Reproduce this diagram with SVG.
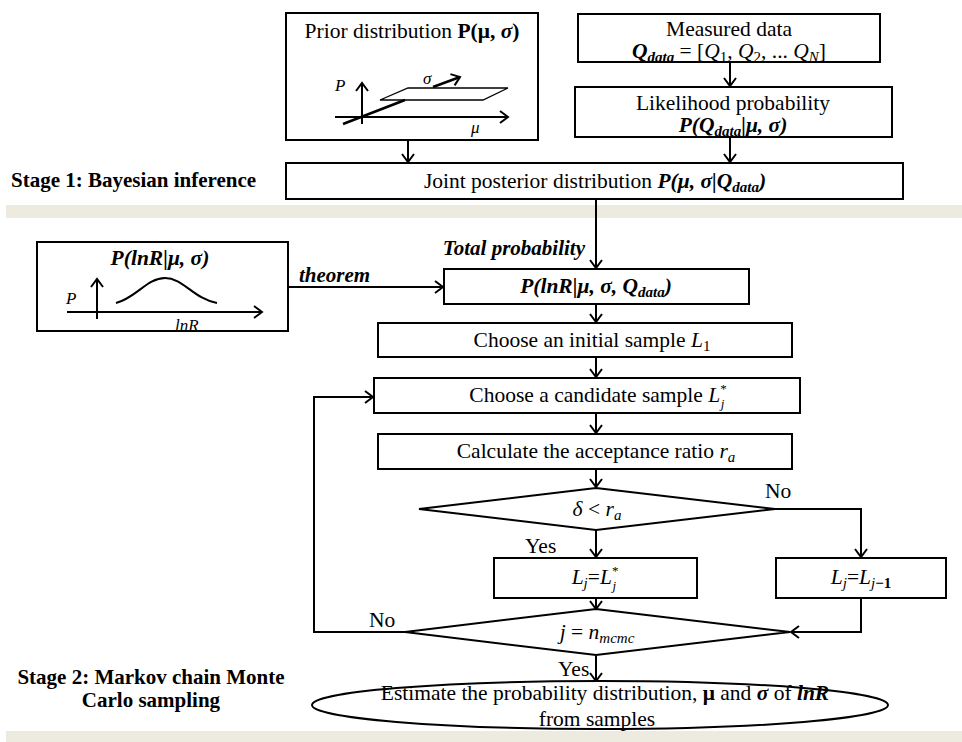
<svg xmlns="http://www.w3.org/2000/svg" width="962" height="742" viewBox="0 0 962 742">
<style>
text{font-family:"Liberation Serif","Times New Roman",serif;font-size:21.5px;fill:#000}
.c{text-anchor:middle}
.b{font-weight:bold}
.i{font-style:italic}
.bi{font-weight:bold;font-style:italic}
.st{font-weight:bold;font-size:21px}
.lab{font-size:17px;font-style:italic}
.box{fill:#fff;stroke:#000;stroke-width:2}
.ln{fill:none;stroke:#000;stroke-width:2}
.band{fill:#EDEAE0}
</style>
<defs>
<marker id="ah" viewBox="-10 -7 12 14" markerWidth="12" markerHeight="14" refX="0" refY="0" orient="auto" markerUnits="userSpaceOnUse">
<path d="M-8,-6 L0,0 L-8,6" fill="none" stroke="#000" stroke-width="2"/>
</marker>
</defs>

<rect class="band" x="6" y="205" width="956" height="13"/>
<rect class="band" x="6" y="731" width="956" height="11"/>

<text class="st" x="11" y="187">Stage 1: Bayesian inference</text>
<text class="st c" x="151" y="684">Stage 2: Markov chain Monte</text>
<text class="st c" x="151" y="707">Carlo sampling</text>

<g id="connectors">
<line class="ln" x1="408" y1="140" x2="408" y2="162" marker-end="url(#ah)"/>
<line class="ln" x1="730" y1="62" x2="730" y2="86" marker-end="url(#ah)"/>
<line class="ln" x1="730" y1="137" x2="730" y2="162" marker-end="url(#ah)"/>
<line class="ln" x1="596" y1="199" x2="596" y2="268" marker-end="url(#ah)"/>
<line class="ln" x1="288" y1="287" x2="443" y2="287" marker-end="url(#ah)"/>
<line class="ln" x1="596" y1="304" x2="596" y2="322" marker-end="url(#ah)"/>
<line class="ln" x1="596" y1="357" x2="596" y2="377" marker-end="url(#ah)"/>
<line class="ln" x1="596" y1="413" x2="596" y2="433" marker-end="url(#ah)"/>
<line class="ln" x1="596" y1="469" x2="596" y2="487" marker-end="url(#ah)"/>
<polyline class="ln" points="775,509 861,509 861,557" marker-end="url(#ah)"/>
<line class="ln" x1="596" y1="530" x2="596" y2="557" marker-end="url(#ah)"/>
<line class="ln" x1="596" y1="598" x2="596" y2="609" marker-end="url(#ah)"/>
<polyline class="ln" points="861,598 861,632 791,632" marker-end="url(#ah)"/>
<polyline class="ln" points="405,632 314,632 314,397 373,397" marker-end="url(#ah)"/>
<line class="ln" x1="596" y1="656" x2="596" y2="681" marker-end="url(#ah)"/>
<text x="299" y="282" class="bi" style="font-size:21px">theorem</text>
<text x="585" y="255" class="bi" style="font-size:21px;text-anchor:end">Total probability</text>
<text x="765" y="498">No</text>
<text x="525" y="553">Yes</text>
<text x="369" y="627">No</text>
<text x="558" y="676">Yes</text>
</g>

<g id="prior">
<rect class="box" x="286" y="13" width="252" height="127"/>
<text class="c" x="412" y="38">Prior distribution <tspan class="b">P(μ, <tspan class="bi">σ</tspan>)</tspan></text>
<polygon points="380,100 408,88 508,88 483,100" fill="none" stroke="#000" stroke-width="1.3"/>
<line x1="343" y1="124" x2="405" y2="100" stroke="#000" stroke-width="2.5"/>
<line class="ln" x1="362" y1="124" x2="362" y2="83" marker-end="url(#ah)"/>
<line class="ln" x1="335" y1="117" x2="508" y2="117" marker-end="url(#ah)"/>
<line x1="433" y1="87" x2="460" y2="77" stroke="#000" stroke-width="2.5" marker-end="url(#ah)"/>
<text class="lab" x="335" y="91">P</text>
<text class="lab" x="423" y="84">σ</text>
<text class="lab" x="471" y="133">μ</text>
</g>

<g id="measured">
<rect class="box" x="578" y="14" width="302" height="48"/>
<text class="c" x="729" y="36">Measured data</text>
<text class="c" x="729" y="58"><tspan class="bi">Q<tspan dy="4" font-size="15">data</tspan></tspan><tspan dy="-4"> = [</tspan><tspan class="i">Q</tspan><tspan dy="4" font-size="15">1</tspan><tspan dy="-4">, </tspan><tspan class="i">Q</tspan><tspan dy="4" font-size="15">2</tspan><tspan dy="-4">, ... </tspan><tspan class="i">Q</tspan><tspan class="i" dy="4" font-size="15">N</tspan><tspan dy="-4">]</tspan></text>
</g>

<g id="likelihood">
<rect class="box" x="575" y="87" width="317" height="50"/>
<text class="c" x="733" y="110">Likelihood probability</text>
<text class="c bi" x="733" y="132">P(Q<tspan dy="4" font-size="15">data</tspan><tspan dy="-4">|μ, σ)</tspan></text>
</g>

<g id="joint">
<rect class="box" x="286" y="163" width="617" height="36"/>
<text class="c" x="595" y="188">Joint posterior distribution <tspan class="bi">P(μ, σ|Q<tspan dy="4" font-size="15">data</tspan><tspan dy="-4">)</tspan></tspan></text>
</g>

<g id="inset">
<rect class="box" x="37" y="242" width="251" height="89"/>
<text class="c bi" x="160" y="265">P(lnR|μ, σ)</text>
<line class="ln" x1="97" y1="319" x2="97" y2="279" marker-end="url(#ah)"/>
<line class="ln" x1="67" y1="312" x2="262" y2="312" marker-end="url(#ah)"/>
<path class="ln" d="M116,303 C136,298 147,278 165,278 C183,278 194,299 217,303"/>
<text class="lab" x="66" y="304">P</text>
<text class="lab" x="175" y="331">lnR</text>
</g>

<g id="cond">
<rect class="box" x="444" y="269" width="305" height="35"/>
<text class="c bi" x="596" y="293">P(lnR|μ, σ, Q<tspan dy="4" font-size="15">data</tspan><tspan dy="-4">)</tspan></text>
</g>

<g id="initial">
<rect class="box" x="378" y="323" width="414" height="34"/>
<text class="c" x="592" y="347">Choose an initial sample <tspan class="i">L</tspan><tspan dy="4" font-size="15">1</tspan></text>
</g>

<g id="candidate">
<rect class="box" x="374" y="378" width="426" height="35"/>
<text class="c" x="598" y="402">Choose a candidate sample <tspan class="i">L</tspan><tspan dy="-9" font-size="13">*</tspan><tspan class="i" dx="-6" dy="15" font-size="13">j</tspan></text>
</g>

<g id="ratio">
<rect class="box" x="378" y="434" width="414" height="35"/>
<text class="c" x="596" y="458">Calculate the acceptance ratio <tspan class="i">r</tspan><tspan class="i" dy="4" font-size="15">a</tspan></text>
</g>

<g id="decision1">
<polygon class="box" points="596,488 775,509 596,530 419,509"/>
<text class="c" x="597" y="516"><tspan class="i">δ</tspan>  &lt; <tspan class="i">r</tspan><tspan class="i" dy="4" font-size="15">a</tspan></text>
</g>

<g id="accept">
<rect class="box" x="494" y="558" width="203" height="40"/>
<text class="c" x="595" y="584"><tspan class="i">L</tspan><tspan class="i" dy="4" font-size="15">j</tspan><tspan dy="-4">=</tspan><tspan class="i">L</tspan><tspan dy="-9" font-size="13">*</tspan><tspan class="i" dx="-6" dy="15" font-size="13">j</tspan></text>
</g>

<g id="reject">
<rect class="box" x="776" y="558" width="170" height="40"/>
<text class="c" x="861" y="584"><tspan class="i">L</tspan><tspan class="i" dy="4" font-size="15">j</tspan><tspan dy="-4">=</tspan><tspan class="i">L</tspan><tspan dy="4" font-size="15"><tspan class="i">j</tspan><tspan class="b">−1</tspan></tspan></text>
</g>

<g id="decision2">
<polygon class="box" points="596,609 790,632 596,655 405,632"/>
<text class="c" x="597" y="639"><tspan class="i">j</tspan> = <tspan class="i">n</tspan><tspan class="i" dy="4" font-size="15">mcmc</tspan></text>
</g>

<g id="estimate">
<ellipse class="box" cx="600" cy="705" rx="288" ry="24"/>
<text class="c" x="605" y="700">Estimate the probability distribution, <tspan class="b">μ</tspan> and <tspan class="bi">σ</tspan> of  <tspan class="bi">lnR</tspan></text>
<text class="c" x="597" y="726">from samples</text>
</g>
</svg>
